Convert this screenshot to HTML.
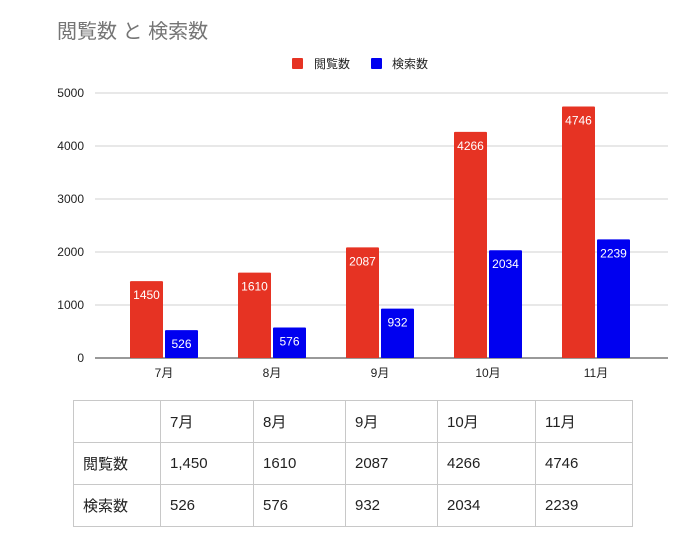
<!DOCTYPE html>
<html><head><meta charset="utf-8"><style>
body{margin:0;background:#fff;font-family:"Liberation Sans","Noto Sans CJK JP",sans-serif;}
#wrap{position:relative;width:698px;height:545px;overflow:hidden;background:#fff}
table{position:absolute;left:73px;top:400px;border-collapse:collapse;font-size:15px;color:#222}
td{border:1.5px solid #c8c8c8;height:42px;padding:0 0 0 9px;box-sizing:border-box}
</style></head><body>
<div id="wrap">
<svg id="chart" width="698" height="395" style="position:absolute;left:0;top:0"></svg>
<table>
<tr><td style="width:87px"></td><td style="width:93px">7月</td><td style="width:92px">8月</td><td style="width:92px">9月</td><td style="width:98px">10月</td><td style="width:97px">11月</td></tr>
<tr><td>閲覧数</td><td>1,450</td><td>1610</td><td>2087</td><td>4266</td><td>4746</td></tr>
<tr><td>検索数</td><td>526</td><td>576</td><td>932</td><td>2034</td><td>2239</td></tr>
</table>
</div>
<script>
const categories=["7月","8月","9月","10月","11月"];
const views=[1450,1610,2087,4266,4746];
const searches=[526,576,932,2034,2239];
const ticks=[0,1000,2000,3000,4000,5000];
const NS="http://www.w3.org/2000/svg";
const svg=document.getElementById('chart');
const y=v=>358-v*265/5000;
const xc=i=>164+i*108;
function mk(t,a,txt){const e=document.createElementNS(NS,t);for(const k in a)e.setAttribute(k,a[k]);if(txt!=null)e.textContent=txt;svg.appendChild(e);return e;}
let e=mk('text',{x:57,y:38,'font-size':20,fill:'#757575'},'閲覧数 と 検索数');


e=mk('rect',{x:292,y:58,width:11,height:11,fill:'#e63323',rx:1});


e=mk('text',{x:314,y:68,'font-size':12,fill:'#222'},'閲覧数');


e=mk('rect',{x:371,y:58,width:11,height:11,fill:'#0000f0',rx:1});


e=mk('text',{x:392,y:68,'font-size':12,fill:'#222'},'検索数');


ticks.forEach(t=>{
  e=mk('line',{x1:95,x2:668,y1:y(t),y2:y(t),stroke:t===0?'#333':'#d0d0d0','stroke-width':1});
  
  
  e=mk('text',{x:84,y:y(t)+4,'font-size':12,fill:'#222','text-anchor':'end'},t);
  
  
});
categories.forEach((c,i)=>{
  const x=xc(i);
  e=mk('rect',{x:x-34,y:y(views[i]),width:33,height:y(0)-y(views[i]),fill:'#e63323',rx:1});
  
  
  e=mk('text',{x:x-17.5,y:y(views[i])+18,'font-size':12,fill:'#fff','text-anchor':'middle'},views[i]);
  
  
  e=mk('rect',{x:x+1,y:y(searches[i]),width:33,height:y(0)-y(searches[i]),fill:'#0000f0',rx:1});
  
  
  e=mk('text',{x:x+17.5,y:y(searches[i])+18,'font-size':12,fill:'#fff','text-anchor':'middle'},searches[i]);
  
  
  e=mk('text',{x:x,y:377,'font-size':12,fill:'#222','text-anchor':'middle'},c);
  
  
});
</script>
</body></html>
